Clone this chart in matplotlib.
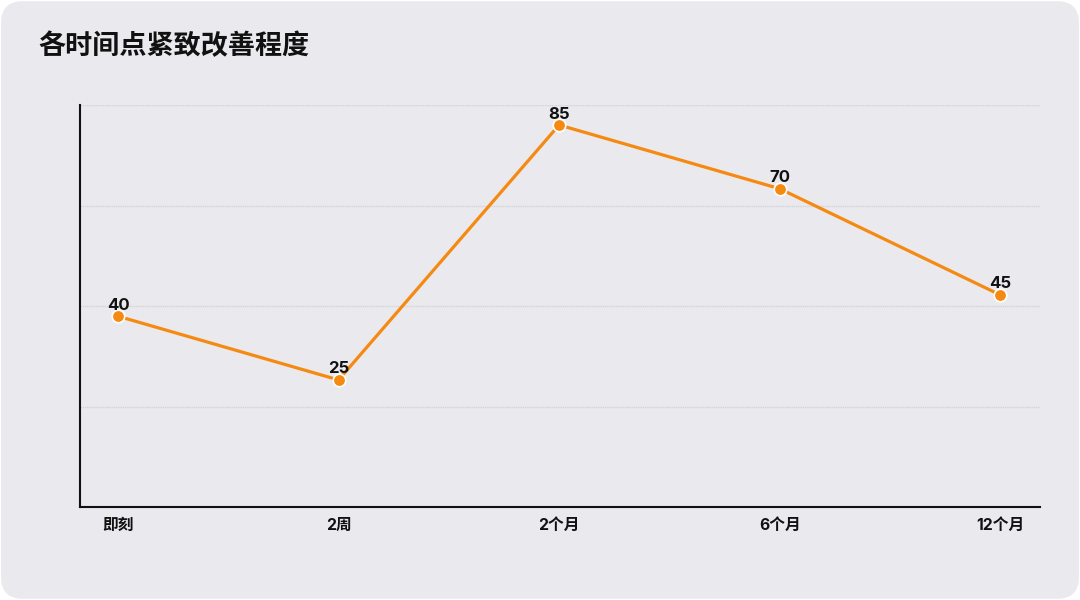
import numpy as np
import matplotlib.pyplot as plt
from matplotlib.patches import FancyBboxPatch

plt.rcParams['font.family'] = ['Noto Sans CJK SC', 'DejaVu Sans']

title = '各时间点紧致改善程度'
categories = ['即刻', '2周', '2个月', '6个月', '12个月']
values = [40, 25, 85, 70, 45]

bg = '#eae9ee'
orange = '#f58a12'
mixed = ['Inter', 'Noto Sans CJK SC', 'DejaVu Sans']

fig = plt.figure(figsize=(10.8, 6), dpi=100, facecolor='white')
# rounded card behind everything
card = FancyBboxPatch((0.001, 0.002), 0.998, 0.996, boxstyle='round,pad=0,rounding_size=0.02',
                      transform=fig.transFigure, facecolor=bg, edgecolor='none', zorder=-10,
                      mutation_aspect=1.8)
fig.patches.append(card)

ax = fig.add_axes([80 / 1080, 1 - 507 / 600, 960 / 1080, 402 / 600])
ax.set_facecolor('none')
ax.set_zorder(5)

x = np.arange(len(categories))
ax.plot(x, values, color=orange, linewidth=2.3, marker='o', markersize=9,
        markerfacecolor=orange, markeredgecolor='white', markeredgewidth=1.2, zorder=3)
for xi, v in zip(x, values):
    ax.annotate(str(v), (xi, v), xytext=(0, 2.5), textcoords='offset points',
                ha='center', va='bottom', fontsize=12, fontweight='bold', color='#111111',
                family=mixed, zorder=4)

ymin, ymax = -4.9, 89.7
ax.set_ylim(ymin, ymax)
ax.set_xlim(-0.172, len(categories) - 1 + 0.18)
ax.set_yticks(np.linspace(ymin, ymax, 5)[1:])
ax.set_yticklabels([])
ax.tick_params(axis='y', length=0)
ax.grid(axis='y', color='#d4d3d8', linewidth=1, linestyle=(0, (1, 0.6)))
ax.set_xticks(x)
ax.set_xticklabels(categories, fontsize=11.3, fontweight='bold', color='#111111', family=mixed)
ax.tick_params(axis='x', length=0, pad=8)

for s in ['top', 'right']:
    ax.spines[s].set_visible(False)
for s in ['left', 'bottom']:
    ax.spines[s].set_color('#111111')
    ax.spines[s].set_linewidth(1.5)

fig.text(38 / 1080, 1 - 46 / 600, title, fontsize=19.5, fontweight='bold', color='#111111',
         ha='left', va='center')

fig.savefig('out.png', dpi=100, facecolor='white')
